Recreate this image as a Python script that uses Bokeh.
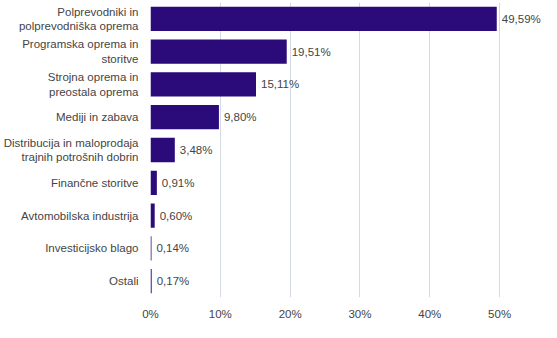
from bokeh.plotting import figure
from bokeh.models import ColumnDataSource, FixedTicker, CustomJSTickFormatter, FactorRange, Range1d
from bokeh.core.properties import value
from bokeh.embed import file_html
from bokeh.resources import INLINE

categories = [
    "Polprevodniki in\npolprevodniška oprema",
    "Programska oprema in\nstoritve",
    "Strojna oprema in\npreostala oprema",
    "Mediji in zabava",
    "Distribucija in maloprodaja\ntrajnih potrošnih dobrin",
    "Finančne storitve",
    "Avtomobilska industrija",
    "Investicijsko blago",
    "Ostali",
]
values = [49.59, 19.51, 15.11, 9.80, 3.48, 0.91, 0.60, 0.14, 0.17]
labels = ["49,59%", "19,51%", "15,11%", "9,80%", "3,48%", "0,91%", "0,60%", "0,14%", "0,17%"]
x_ticks = [0, 10, 20, 30, 40, 50]

FONT = "Liberation Sans"
FS = "11.5px"
TXT = "#444444"
BAR = "#2B0A7A"
GRID = "#d3dae6"

src = ColumnDataSource(dict(cat=categories, val=values, lab=labels))

p = figure(
    width=541, height=322,
    y_range=FactorRange(*reversed(categories), range_padding=0.0),
    x_range=Range1d(0, 56),
    output_backend="svg", toolbar_location=None,
    min_border_left=150, min_border_right=0, min_border_top=2, min_border_bottom=0,
)
p.outline_line_color = None
p.background_fill_color = "white"
p.border_fill_color = "white"

p.hbar(y="cat", right="val", left=0, height=0.74, source=src,
       fill_color=BAR, line_color=None)

p.text(x="val", y="cat", text="lab", source=src, x_offset=5,
       text_align="left", text_baseline="middle",
       text_font=value(FONT), text_font_size=FS, text_color=TXT)

p.xaxis.ticker = FixedTicker(ticks=x_ticks)
p.xaxis.formatter = CustomJSTickFormatter(code="return tick + '%';")
p.xaxis.axis_line_color = None
p.xaxis.major_tick_line_color = None
p.xaxis.minor_tick_line_color = None
p.xaxis.major_label_standoff = 4
p.xaxis.major_label_text_font = FONT
p.xaxis.major_label_text_font_size = FS
p.xaxis.major_label_text_color = TXT

p.yaxis.axis_line_color = None
p.yaxis.major_tick_line_color = None
p.yaxis.minor_tick_line_color = None
p.yaxis.major_label_standoff = 6
p.yaxis.major_label_text_font = FONT
p.yaxis.major_label_text_font_size = FS
p.yaxis.major_label_text_color = TXT
p.yaxis.major_label_text_align = "right"

p.xgrid.grid_line_color = GRID
p.xgrid.grid_line_width = 1
p.ygrid.grid_line_color = None

open("out.html", "w").write(file_html(p, INLINE))
